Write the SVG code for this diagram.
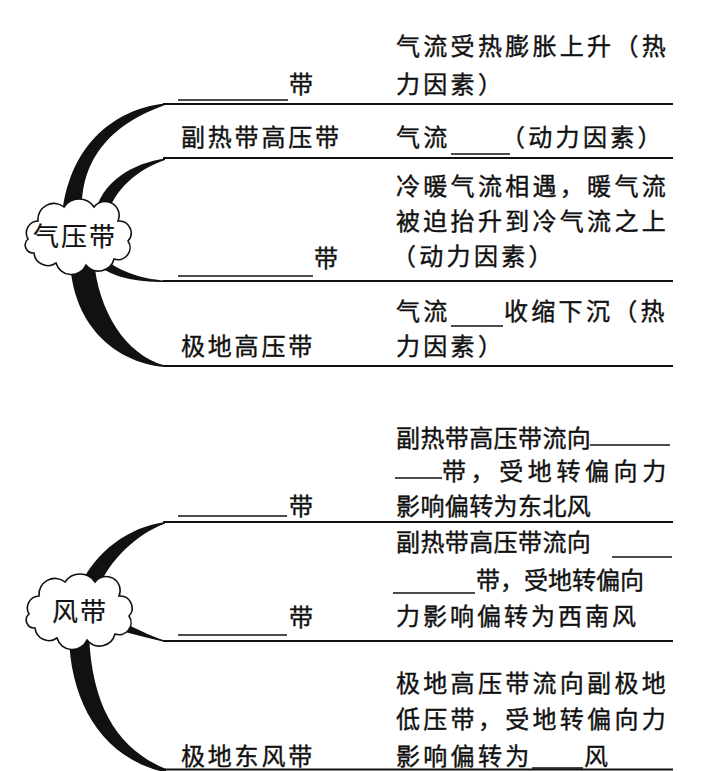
<svg xmlns="http://www.w3.org/2000/svg" width="715" height="771" viewBox="0 0 715 771">
<style>
text{font-family:"Noto Sans CJK SC","Noto Sans CJK TC",sans-serif;font-size:24px;fill:#111;stroke:#111;stroke-width:0.4px}
.j{letter-spacing:3.3px}
.n{letter-spacing:0.4px}
.l{letter-spacing:2.8px}
.c{font-size:26px;letter-spacing:2px;stroke-width:0.2px}
.hl{stroke:#111;stroke-width:1.8;fill:none}
.ul{stroke:#111;stroke-width:1.5;fill:none}
.br{fill:#111;stroke:none}
.cloud{fill:#fff;stroke:#111;stroke-width:1.6}
</style>
<defs>
<path id="cloudShape" d="M -50,4 A 12,12 0 0 1 -40,-14 A 16,16 0 0 1 -14,-28 A 18,18 0 0 1 16,-28 A 14,14 0 0 1 40,-14 A 12,12 0 0 1 50,6 A 12,12 0 0 1 36,24 A 16,16 0 0 1 8,30 A 16,16 0 0 1 -22,28 A 14,14 0 0 1 -44,18 A 8,8 0 0 1 -50,4 Z"/>
</defs>
<rect width="715" height="771" fill="#fff"/>

<g id="connectors">
  <path class="br" d="M165,103.5 C120,108 70,140 62,215 L82,215 C80,175 95,130 165,105 Z"/>
  <path class="br" d="M165,158.5 C135,163 100,180 94,218 L107,218 C112,190 140,168 165,160 Z"/>
  <path class="br" d="M100,255 C115,270 140,279 165,280.5 L165,282 C135,282 112,277 98,265 Z"/>
  <path class="br" d="M70,260 C72,320 110,362 165,367 L165,365.5 C125,355 98,310 94,260 Z"/>
  <path class="br" d="M165,522 C130,527 95,550 78,590 L97,590 C110,560 135,535 165,523.5 Z"/>
  <path class="br" d="M118,620 C135,628 150,636 165,640.5 L165,642 C148,638 132,634 118,630 Z"/>
  <path class="br" d="M69,635 C70,700 100,755 160,771 L166,771 L166,769 C120,750 92,710 89,635 Z"/>
  <line class="hl" x1="163" y1="104" x2="673" y2="104"/>
  <line class="hl" x1="163" y1="158" x2="673" y2="158"/>
  <line class="hl" x1="163" y1="281" x2="673" y2="281"/>
  <line class="hl" x1="163" y1="366" x2="673" y2="366"/>
  <line class="hl" x1="163" y1="522" x2="673" y2="522"/>
  <line class="hl" x1="163" y1="641" x2="673" y2="641"/>
  <line class="hl" x1="163" y1="769.5" x2="673" y2="769.5"/>
</g>

<g id="node-qiyadai">
  <use href="#cloudShape" class="cloud" transform="translate(78,235)"/>
  <text class="c" x="33" y="246">气压带</text>
</g>

<g id="node-fengdai">
  <use href="#cloudShape" class="cloud" transform="translate(79,610)"/>
  <text class="c" x="52" y="621">风带</text>
</g>

<g id="row-1">
  <line class="ul" x1="178" y1="100" x2="288" y2="100"/>
  <text x="289" y="93">带</text>
  <text class="j" x="396" y="55">气流受热膨胀上升（热</text>
  <text class="j" x="396" y="93">力因素）</text>
</g>

<g id="row-2">
  <text class="l" x="181" y="146">副热带高压带</text>
  <text class="j" x="396" y="146">气流</text>
  <line class="ul" x1="451" y1="154" x2="510" y2="154"/>
  <text class="j" x="501" y="146">（动力因素）</text>
</g>

<g id="row-3">
  <line class="ul" x1="178" y1="276" x2="313" y2="276"/>
  <text x="314" y="267">带</text>
  <text class="j" x="396" y="195">冷暖气流相遇，暖气流</text>
  <text class="j" x="396" y="230">被迫抬升到冷气流之上</text>
  <text class="j" x="392" y="265">（动力因素）</text>
</g>

<g id="row-4">
  <text class="l" x="181" y="355">极地高压带</text>
  <text class="j" x="396" y="320">气流</text>
  <line class="ul" x1="451" y1="326" x2="503" y2="326"/>
  <text class="j" x="504" y="320">收缩下沉（热</text>
  <text class="j" x="396" y="355">力因素）</text>
</g>

<g id="row-5">
  <line class="ul" x1="178" y1="516" x2="287" y2="516"/>
  <text x="289" y="515">带</text>
  <text class="n" x="396" y="447">副热带高压带流向</text>
  <line class="ul" x1="590" y1="445" x2="670" y2="445"/>
  <line class="ul" x1="395" y1="478" x2="442" y2="478"/>
  <text style="letter-spacing:4.6px" x="442" y="480">带，受地转偏向力</text>
  <text class="n" x="396" y="515">影响偏转为东北风</text>
</g>

<g id="row-6">
  <line class="ul" x1="178" y1="635" x2="287" y2="635"/>
  <text x="289" y="626">带</text>
  <text class="n" x="396" y="551">副热带高压带流向</text>
  <line class="ul" x1="612" y1="557" x2="672" y2="557"/>
  <line class="ul" x1="393" y1="593" x2="475" y2="593"/>
  <text x="476" y="589">带，受地转偏向</text>
  <text style="letter-spacing:3px" x="396" y="625">力影响偏转为西南风</text>
</g>

<g id="row-7">
  <text class="l" x="181" y="765">极地东风带</text>
  <text class="j" x="396" y="692">极地高压带流向副极地</text>
  <text class="j" x="396" y="728">低压带，受地转偏向力</text>
  <text class="j" x="396" y="765">影响偏转为</text>
  <line class="ul" x1="532" y1="768" x2="583" y2="768"/>
  <text x="584" y="765">风</text>
</g>
</svg>
